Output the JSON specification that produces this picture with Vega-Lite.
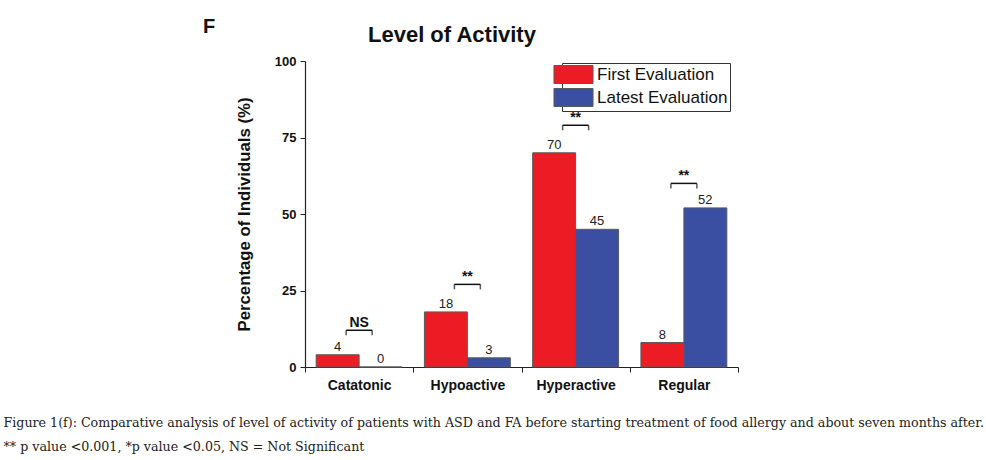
{
  "$schema": "https://vega.github.io/schema/vega-lite/v6.json",
  "autosize": {"type": "none"},
  "padding": {"left": 305, "top": 61, "right": 248, "bottom": 93},
  "width": 433,
  "height": 306,
  "background": "white",
  "config": {"view": {"stroke": null}, "font": "Liberation Sans"},
  "title": {
    "text": "Level of Activity",
    "anchor": "start",
    "frame": "group",
    "dx": 63,
    "dy": 40,
    "offset": 10,
    "fontSize": 22,
    "fontWeight": "bold",
    "font": "Liberation Sans",
    "color": "#111"
  },
  "datasets": {
    "bars": [
      {"level": "Catatonic", "evaluation": "First Evaluation", "pct": 4},
      {"level": "Catatonic", "evaluation": "Latest Evaluation", "pct": 0},
      {"level": "Hypoactive", "evaluation": "First Evaluation", "pct": 18},
      {"level": "Hypoactive", "evaluation": "Latest Evaluation", "pct": 3},
      {"level": "Hyperactive", "evaluation": "First Evaluation", "pct": 70},
      {"level": "Hyperactive", "evaluation": "Latest Evaluation", "pct": 45},
      {"level": "Regular", "evaluation": "First Evaluation", "pct": 8},
      {"level": "Regular", "evaluation": "Latest Evaluation", "pct": 52}
    ],
    "sig": [
      {"level": "Catatonic", "bracket": 12, "label": "NS"},
      {"level": "Hypoactive", "bracket": 27, "label": "**"},
      {"level": "Hyperactive", "bracket": 79, "label": "**"},
      {"level": "Regular", "bracket": 60, "label": "**"}
    ],
    "panel": [{"panel": "F", "level": "Catatonic", "pos": 111}]
  },
  "layer": [
    {
      "data": {"name": "bars"},
      "mark": {"type": "bar", "stroke": "#5a5a5a", "strokeWidth": 1},
      "encoding": {
        "x": {
          "field": "level", "type": "nominal", "sort": null,
          "scale": {"paddingInner": 0, "paddingOuter": 0},
          "axis": {
            "labelFont": "Liberation Sans", "labelFontSize": 14, "labelFontWeight": "bold", "labelColor": "#111",
            "labelAngle": 0, "labelPadding": 6, "tickBand": "extent", "tickSize": 5, "tickColor": "#222",
            "domainColor": "#222", "domainWidth": 1.2,
            "title": ["Figure 1(f): Comparative analysis of level of activity of patients with ASD and FA before starting treatment of food allergy and about seven months after.", "** p value <0.001, *p value <0.05, NS = Not Significant"],
            "titleFont": "DejaVu Serif", "titleFontSize": 12.65, "titleFontWeight": "normal", "titleColor": "#222",
            "titleAlign": "left", "titleAnchor": "start", "titleBaseline": "top", "titleX": -302, "titleY": 49, "titleLineHeight": 24
          }
        },
        "xOffset": {"field": "evaluation", "type": "nominal", "scale": {"paddingInner": 0, "paddingOuter": 0.26}},
        "y": {
          "field": "pct", "type": "quantitative",
          "scale": {"domain": [0, 100], "nice": false},
          "axis": {
            "values": [0, 12.5, 25, 37.5, 50, 62.5, 75, 87.5, 100],
            "labelExpr": "datum.value % 25 == 0 ? datum.label : ''",
            "grid": false, "labelFont": "Liberation Sans", "labelFontSize": 13, "labelFontWeight": "bold", "labelColor": "#111",
            "tickSize": 5, "tickColor": "#222", "domainColor": "#222", "domainWidth": 1.2, "labelPadding": 4,
            "title": "Percentage of Individuals (%)", "titleFont": "Liberation Sans", "titleFontSize": 16.8,
            "titleFontWeight": "bold", "titleColor": "#111", "titlePadding": 21
          }
        },
        "color": {
          "field": "evaluation", "type": "nominal",
          "scale": {"domain": ["First Evaluation", "Latest Evaluation"], "range": ["#ec1c24", "#3a4ea2"]},
          "legend": {
            "title": null, "orient": "none", "legendX": 257, "legendY": 2,
            "strokeColor": "#333", "padding": 2, "fillColor": "white",
            "symbolType": "M-2.17,-1H2.17V1H-2.17Z", "symbolSize": 324, "symbolStrokeColor": "#5a5a5a", "symbolStrokeWidth": 1,
            "labelFont": "Liberation Sans", "labelFontSize": 17, "labelColor": "#111", "labelOffset": 14, "rowPadding": 0
          }
        }
      }
    },
    {
      "data": {"name": "bars"},
      "mark": {"type": "text", "dy": -8, "fontSize": 13, "color": "#222", "font": "Liberation Sans"},
      "encoding": {
        "x": {"field": "level", "type": "nominal", "sort": null},
        "xOffset": {"field": "evaluation", "type": "nominal"},
        "y": {"field": "pct", "type": "quantitative"},
        "text": {"field": "pct", "type": "quantitative"}
      }
    },
    {
      "data": {"name": "sig"},
      "mark": {"type": "rule", "color": "#111", "strokeWidth": 1.5},
      "encoding": {
        "x": {"field": "level", "type": "nominal", "sort": null, "bandPosition": 0.38},
        "x2": {"field": "level", "bandPosition": 0.62},
        "y": {"field": "bracket", "type": "quantitative"}
      }
    },
    {
      "data": {"name": "sig"},
      "mark": {"type": "tick", "orient": "vertical", "color": "#111", "size": 5, "thickness": 1.5, "yOffset": 2.5},
      "encoding": {
        "x": {"field": "level", "type": "nominal", "sort": null, "bandPosition": 0.38},
        "y": {"field": "bracket", "type": "quantitative"}
      }
    },
    {
      "data": {"name": "sig"},
      "mark": {"type": "tick", "orient": "vertical", "color": "#111", "size": 5, "thickness": 1.5, "yOffset": 2.5},
      "encoding": {
        "x": {"field": "level", "type": "nominal", "sort": null, "bandPosition": 0.62},
        "y": {"field": "bracket", "type": "quantitative"}
      }
    },
    {
      "data": {"name": "sig"},
      "mark": {"type": "text", "dy": -7, "fontSize": 14, "fontWeight": "bold", "color": "#111", "font": "Liberation Sans"},
      "encoding": {
        "x": {"field": "level", "type": "nominal", "sort": null},
        "y": {"field": "bracket", "type": "quantitative"},
        "text": {"field": "label"}
      }
    },
    {
      "data": {"name": "panel"},
      "mark": {"type": "text", "fontSize": 20, "fontWeight": "bold", "color": "#111", "font": "Liberation Sans", "dx": -150},
      "encoding": {
        "x": {"field": "level", "type": "nominal", "sort": null},
        "y": {"field": "pos", "type": "quantitative"},
        "text": {"field": "panel"}
      }
    }
  ]
}
